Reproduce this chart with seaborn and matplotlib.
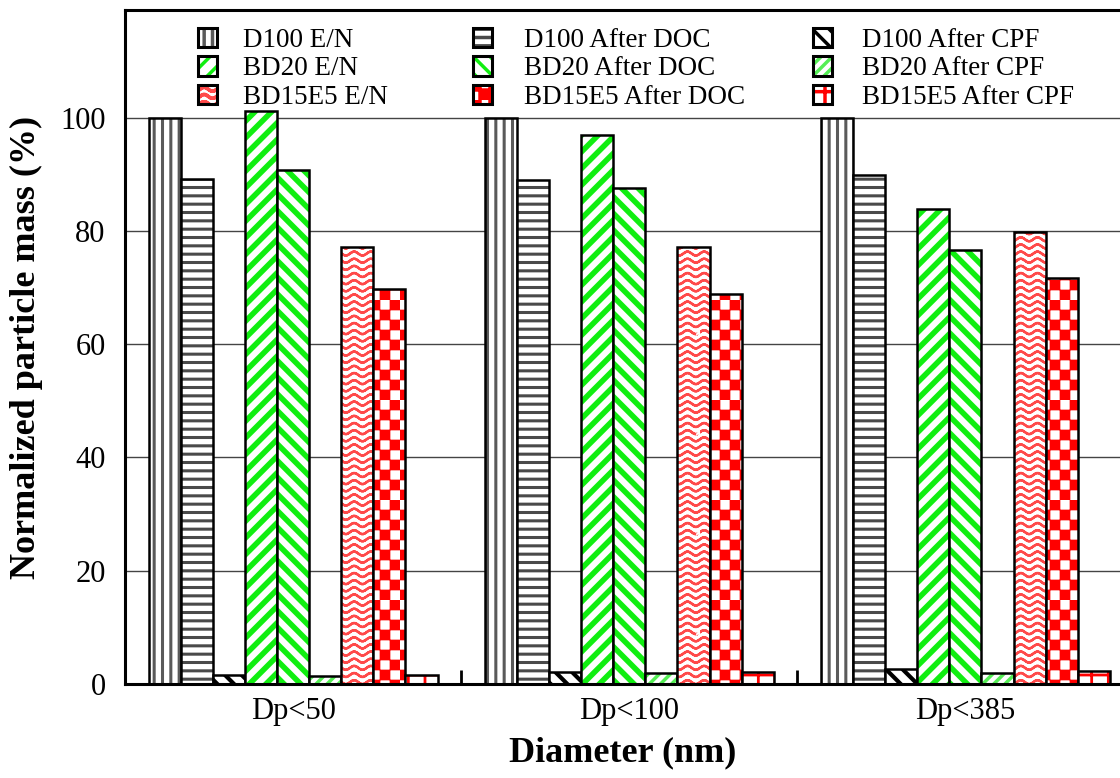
import numpy as np
import pandas as pd
import matplotlib
matplotlib.use("Agg")
import matplotlib.pyplot as plt
import matplotlib.hatch as mhatch
import matplotlib.colors as mcolors
from matplotlib.path import Path
from matplotlib.patches import Patch
import seaborn as sns
import warnings
warnings.filterwarnings('ignore')

# data
diameters = ["Dp<50", "Dp<100", "Dp<385"]
series = ["D100 E/N", "D100 After DOC", "D100 After CPF",
          "BD20 E/N", "BD20 After DOC", "BD20 After CPF",
          "BD15E5 E/N", "BD15E5 After DOC", "BD15E5 After CPF"]
d100_en = [100, 100, 100]
d100_doc = [89.1, 89.0, 89.9]
d100_cpf = [1.6, 2.1, 2.6]
bd20_en = [101.1, 97.0, 83.8]
bd20_doc = [90.7, 87.5, 76.7]
bd20_cpf = [1.4, 1.9, 1.9]
bd15_en = [77.2, 77.2, 79.8]
bd15_doc = [69.8, 68.8, 71.6]
bd15_cpf = [1.6, 2.1, 2.3]
values = [d100_en, d100_doc, d100_cpf, bd20_en, bd20_doc, bd20_cpf,
          bd15_en, bd15_doc, bd15_cpf]

df = pd.DataFrame({
    "diameter": np.tile(diameters, len(series)),
    "series": np.repeat(series, len(diameters)),
    "mass": np.concatenate(values),
})


# extra hatch patterns: '~' wavy lines, 'c' checkerboard
class WaveHatch(mhatch.HatchPatternBase):
    def __init__(self, hatch, density):
        self.num_lines = hatch.count('~') * 7
        self.pts = 6 * 10 + 1
        self.num_vertices = self.num_lines * self.pts * 2

    def set_vertices_and_codes(self, vertices, codes):
        x = np.linspace(0, 1, self.pts)
        k = 0
        for i in range(self.num_lines):
            y = (i + 0.5) / self.num_lines + 0.02 * np.sin(2 * np.pi * 6 * x)
            # forward and back along the same curve -> no filled area
            xs = np.concatenate([x, x[::-1]])
            ys = np.concatenate([y, y[::-1]])
            n = len(xs)
            vertices[k:k + n, 0] = xs
            vertices[k:k + n, 1] = ys
            codes[k:k + n] = Path.LINETO
            codes[k] = Path.MOVETO
            k += n


class CheckerHatch(mhatch.HatchPatternBase):
    def __init__(self, hatch, density):
        self.n = hatch.count('c') * 10
        self.num_vertices = (self.n * self.n // 2) * 5

    def set_vertices_and_codes(self, vertices, codes):
        s = 1.0 / max(self.n, 1)
        k = 0
        for i in range(self.n):
            for j in range(self.n):
                if (i + j) % 2 == 0:
                    vertices[k:k + 5] = [(i * s, j * s), ((i + 1) * s, j * s),
                                         ((i + 1) * s, (j + 1) * s), (i * s, (j + 1) * s),
                                         (i * s, j * s)]
                    codes[k:k + 5] = [Path.MOVETO, Path.LINETO, Path.LINETO,
                                      Path.LINETO, Path.CLOSEPOLY]
                    k += 5


mhatch._hatch_types.append(WaveHatch)
mhatch._hatch_types.append(CheckerHatch)

# hatch, hatch colour, hatch linewidth per series
styles = {
    "D100 E/N": ("||", "#5a5a5a", 2.2),
    "D100 After DOC": ("--", "#4a4a4a", 2.2),
    "D100 After CPF": ("\\\\", "black", 3.0),
    "BD20 E/N": ("//", "#11ee11", 4.0),
    "BD20 After DOC": ("\\\\", "#11ee11", 4.0),
    "BD20 After CPF": ("///", "#55ee55", 2.5),
    "BD15E5 E/N": ("~~", "#ff4a4a", 1.7),
    "BD15E5 After DOC": ("c", "#ff0000", 0.5),
    "BD15E5 After CPF": ("+", "#ff0000", 2.0),
}


def style_patch(p, name):
    hatch, col, lw = styles[name]
    p.set_facecolor("white")
    p.set_edgecolor("black")
    p.set_linewidth(1.8)
    p.set_hatch(hatch)
    if hasattr(p, "set_hatch_linewidth"):
        p.set_hatch_linewidth(lw)
    if hasattr(p, "set_hatchcolor"):
        p.set_hatchcolor(col)
    else:
        p._hatch_color = mcolors.to_rgba(col)


sns.set_style("white")
plt.rcParams['font.family'] = ['Liberation Serif', 'DejaVu Serif']
plt.rcParams['hatch.linewidth'] = 2.5
for key in ['text.color', 'axes.labelcolor', 'xtick.color', 'ytick.color']:
    plt.rcParams[key] = 'black'

fig = plt.figure(figsize=(11.2, 7.78), dpi=100)
ax = fig.add_axes([125 / 1120, 1 - 684 / 778, 1 - 125 / 1120, (684 - 10) / 778])

sns.barplot(data=df, x="diameter", y="mass", hue="series", order=diameters,
            hue_order=series, width=0.86, gap=0, legend=False, ax=ax)

for cont, name in zip(ax.containers, series):
    for p in cont.patches:
        style_patch(p, name)

ax.set_xlim(-0.5, 2.46)
ax.set_ylim(0, 119)
ax.set_yticks([0, 20, 40, 60, 80, 100])
ax.yaxis.grid(True, color="#444444", linewidth=1.0)
ax.set_axisbelow(True)

for side in ["left", "bottom", "top"]:
    ax.spines[side].set_linewidth(2.2)
    ax.spines[side].set_color("black")
ax.spines["right"].set_visible(False)

ax.set_xticks([0.5, 1.5], minor=True)
ax.tick_params(axis="x", which="major", length=0, pad=9, labelsize=22)
ax.tick_params(axis="x", which="minor", direction="in", length=10, width=2, bottom=True)
ax.tick_params(axis="y", length=0, pad=14, labelsize=22)

ax.set_xlabel("Diameter (nm)", fontsize=26, fontweight="bold", labelpad=8)
ax.set_ylabel("Normalized particle mass (%)", fontsize=26, fontweight="bold", labelpad=12)

# three legend columns, one per treatment stage
col_x = [198, 473, 813]
col_pad = [0.95, 1.2, 1.1]
for c, x0 in enumerate(col_x):
    names = [series[c], series[c + 3], series[c + 6]]
    handles = []
    for nm in names:
        h = Patch(label=nm)
        style_patch(h, nm)
        h.set_linewidth(2.2)
        handles.append(h)
    fig.legend(handles=handles, loc="upper left",
               bbox_to_anchor=(x0 / 1120, 1 - 27.5 / 778),
               frameon=False, fontsize=19.5, borderpad=0, borderaxespad=0,
               handlelength=0.7, handleheight=0.74, handletextpad=col_pad[c],
               labelspacing=0.12)

fig.savefig("out.png", dpi=100)
